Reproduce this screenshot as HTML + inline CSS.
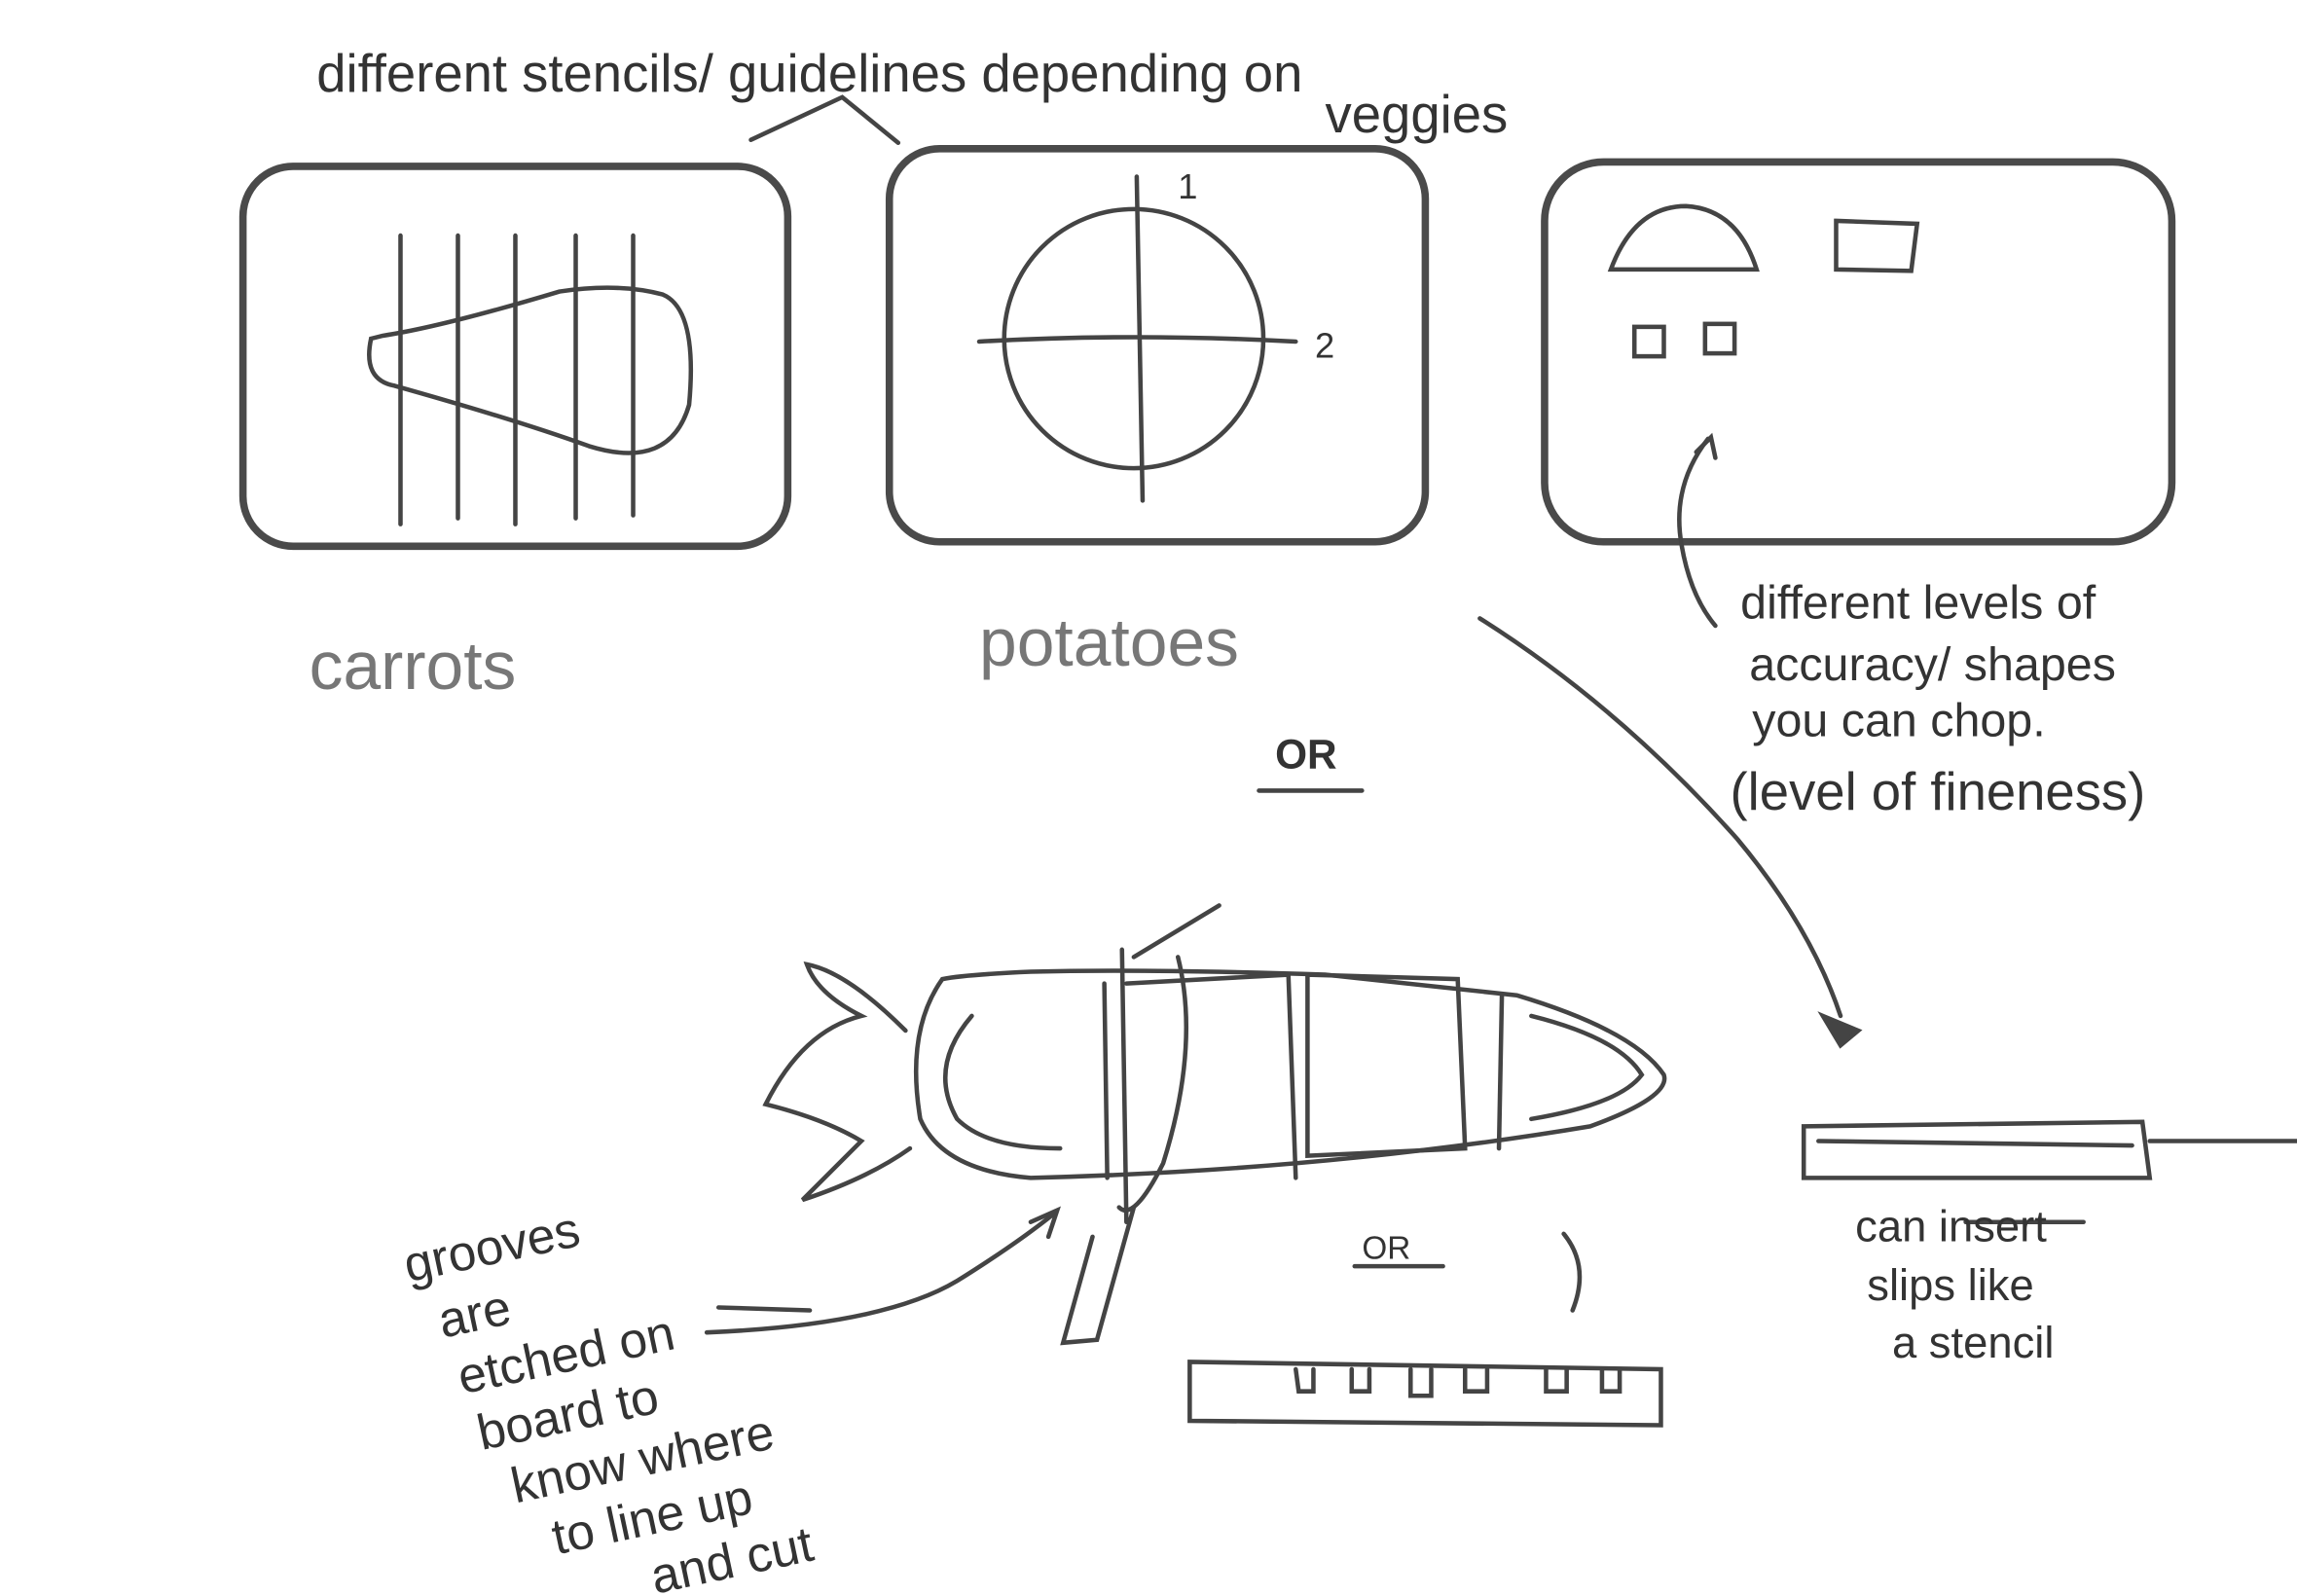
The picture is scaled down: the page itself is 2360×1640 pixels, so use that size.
<!DOCTYPE html>
<html><head><meta charset="utf-8"><style>
html,body{margin:0;padding:0;background:#fff;}
svg{display:block}
text{font-family:"Liberation Sans",sans-serif;fill:#333;}
</style></head><body>
<svg width="2360" height="1640" viewBox="0 0 1560 1084" preserveAspectRatio="none" xmlns="http://www.w3.org/2000/svg">
<g fill="none" stroke="#4a4a4a" stroke-width="5" stroke-linecap="round" stroke-linejoin="round">
<rect x="165" y="113" width="370" height="258" rx="34"/>
<rect x="604" y="101" width="364" height="267" rx="34"/>
<rect x="1049" y="110" width="426" height="258" rx="40"/>
</g>
<g fill="none" stroke="#444" stroke-width="3" stroke-linecap="round">
<line x1="272" y1="160" x2="272" y2="356"/>
<line x1="311" y1="160" x2="311" y2="352"/>
<line x1="350" y1="160" x2="350" y2="356"/>
<line x1="391" y1="160" x2="391" y2="352"/>
<line x1="430" y1="160" x2="430" y2="350"/>
<path d="M252 230 Q246 258 268 262 Q350 285 400 303 Q455 320 468 275 Q474 210 450 200 Q420 192 380 198 Q300 222 260 228 Z"/>
<circle cx="770" cy="230" r="88"/>
<line x1="772" y1="120" x2="776" y2="340"/>
<path d="M665 232 Q770 226 880 232"/>
<path d="M1094 183 Q1110 140 1145 140 Q1180 142 1193 183 Z"/>
<path d="M1247 150 L1302 152 L1298 184 L1247 183 Z"/>
<rect x="1110" y="222" width="20" height="20"/>
<rect x="1158" y="220" width="20" height="20"/>
<path d="M1160 298 Q1135 330 1142 370 Q1148 405 1165 425"/>
<path d="M1152 307 L1162 297 L1165 311"/>
<path d="M510 95 L572 66 L610 97"/>
<path d="M1005 420 Q1100 480 1180 570 Q1230 630 1250 690"/>
<path d="M1238 690 L1262 700 L1250 710 Z" fill="#444"/>
<line x1="855" y1="537" x2="925" y2="537"/>
<line x1="920" y1="860" x2="980" y2="860"/>
<path d="M1062 838 Q1080 860 1068 890"/>
<path d="M640 665 Q615 700 625 760 Q640 795 700 800 Q900 795 1080 765 Q1135 745 1130 730 Q1110 700 1030 676 L900 662 Q780 658 700 660 Q655 662 640 665 Z"/>
<path d="M660 690 Q630 725 650 760 Q670 780 720 780"/>
<path d="M1040 690 Q1100 705 1115 730 Q1100 750 1040 760"/>
<path d="M615 700 Q575 660 548 655 Q555 675 585 690 Q545 700 520 750 Q560 760 585 775 Q560 800 545 815 Q590 800 618 780"/>
<path d="M765 668 L875 662 L880 800"/>
<path d="M888 662 L990 665 L995 780 L888 785 Z"/>
<path d="M1020 676 L1018 780"/>
<path d="M750 668 L752 800 M762 645 L765 830"/>
<path d="M770 650 L828 615"/>
<path d="M800 650 Q815 710 790 790 Q770 830 760 820"/>
<path d="M742 840 L722 912 L745 910 L770 820"/>
<path d="M1225 765 L1455 762 L1460 800 L1225 800 Z"/>
<path d="M1235 775 L1448 778"/>
<path d="M1460 775 L1560 775"/>
<path d="M808 925 L1128 930 L1128 968 L808 965 Z"/>
<path d="M880 930 L882 945 L892 945 L892 930 M918 930 L918 945 L930 945 L930 930 M958 930 L958 948 L972 948 L972 930 M995 930 L995 945 L1010 945 L1010 930 M1050 930 L1050 945 L1064 945 L1064 930 M1088 930 L1088 945 L1100 945 L1100 930"/>
<path d="M480 905 Q600 900 650 870 Q690 845 715 825"/>
<path d="M700 830 L718 822 L712 840"/>
<line x1="488" y1="888" x2="550" y2="890"/>
<line x1="1335" y1="830" x2="1415" y2="830"/>
</g>
<g font-size="38">
<text x="215" y="62" font-size="36">different stencils/ guidelines depending on</text>
<text x="900" y="90" font-size="36">veggies</text>
<text x="800" y="135" font-size="24">1</text>
<text x="893" y="243" font-size="24">2</text>
<text x="210" y="468" font-size="46" fill="#777" style="fill:#777">carrots</text>
<text x="665" y="452" font-size="46" style="fill:#777">potatoes</text>
<text x="866" y="522" font-size="28" font-weight="bold">OR</text>
<text x="925" y="855" font-size="22">OR</text>
<text x="1182" y="420" font-size="32">different levels of</text>
<text x="1188" y="462" font-size="32">accuracy/ shapes</text>
<text x="1190" y="500" font-size="32">you can chop.</text>
<text x="1175" y="550" font-size="36">(level of fineness)</text>
<text x="1260" y="843" font-size="30">can insert</text>
<text x="1268" y="883" font-size="30">slips like</text>
<text x="1285" y="922" font-size="30">a stencil</text>
<g transform="rotate(-12 280 860)" font-size="34">
<text x="275" y="870">grooves</text>
<text x="290" y="912">are</text>
<text x="295" y="952">etched on</text>
<text x="300" y="992">board to</text>
<text x="315" y="1032">know where</text>
<text x="335" y="1072">to line up</text>
<text x="395" y="1112">and cut</text>
</g>
</g>
</svg>
</body></html>
